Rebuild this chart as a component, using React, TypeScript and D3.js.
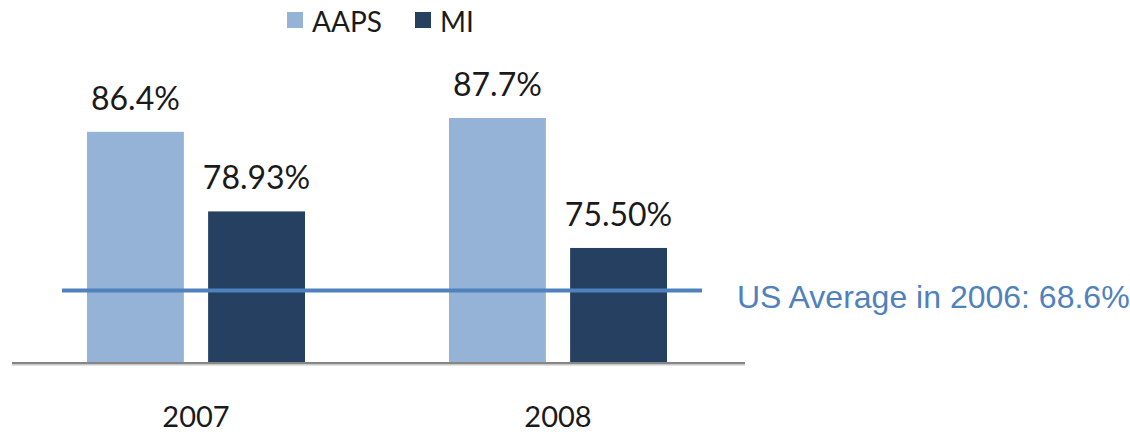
import React, { useEffect, useRef } from 'react';
import * as d3 from 'd3';

// chart data
const years = ['2007', '2008'];
const seriesNames = ['AAPS', 'MI'];
const aapsValues = [86.4, 87.7];
const miValues = [78.93, 75.5];
const valueLabels = [['86.4%', '78.93%'], ['87.7%', '75.50%']];
const seriesColors = ['#95b3d7', '#254061'];
// reference line (drawn where it sits on the original slide)
const usAverageLabel = 'US Average in 2006: 68.6%';
const usAverageMarker = 71.5;

export default function App() {
  const svgRef = useRef<SVGSVGElement>(null);

  useEffect(() => {
    if (!svgRef.current) return;
    const svg = d3.select(svgRef.current);
    svg.selectAll('*').remove();

    const width = 1130;
    const height = 435;
    const baseline = 363;
    const labelFont = 'Lato, "Open Sans", sans-serif';

    svg.attr('width', width).attr('height', height).style('background', '#fff');

    const x0 = d3.scaleBand().domain(years).range([15, 739]);
    const x1 = d3.scaleBand().domain(seriesNames).range([72, 290]).paddingInner(0.2);
    const y = d3.scaleLinear().domain([64.7, 87.7]).range([baseline, 118]);

    const rows = years.map((yr, i) => ({
      year: yr,
      values: [aapsValues[i], miValues[i]],
      labels: valueLabels[i],
    }));

    // bars
    const groups = svg.selectAll('.grp')
      .data(rows)
      .enter()
      .append('g')
      .attr('class', 'grp')
      .attr('transform', d => `translate(${(x0(d.year) ?? 0) + x0.bandwidth() / 2 - 181},0)`);

    groups.selectAll('rect')
      .data(d => d.values.map((v, j) => ({ v, j, label: d.labels[j] })))
      .enter()
      .append('rect')
      .attr('x', d => x1(seriesNames[d.j]) ?? 0)
      .attr('y', d => y(d.v))
      .attr('width', x1.bandwidth())
      .attr('height', d => baseline - y(d.v))
      .attr('fill', d => seriesColors[d.j]);

    groups.selectAll('text.val')
      .data(d => d.values.map((v, j) => ({ v, j, label: d.labels[j] })))
      .enter()
      .append('text')
      .attr('class', 'val')
      .attr('x', d => (x1(seriesNames[d.j]) ?? 0) + x1.bandwidth() / 2)
      .attr('y', d => y(d.v) - 22)
      .attr('text-anchor', 'middle')
      .attr('font-family', labelFont)
      .attr('font-size', 32)
      .attr('fill', '#1a1a1a')
      .text(d => d.label);

    // baseline axis
    svg.append('line')
      .attr('x1', 12).attr('x2', 745)
      .attr('y1', baseline + 1.5).attr('y2', baseline + 1.5)
      .attr('stroke', '#c8c8c8').attr('stroke-width', 2);
    svg.append('line')
      .attr('x1', 12).attr('x2', 745)
      .attr('y1', baseline).attr('y2', baseline)
      .attr('stroke', '#868686').attr('stroke-width', 2);

    // year labels
    svg.selectAll('text.year')
      .data(years)
      .enter()
      .append('text')
      .attr('class', 'year')
      .attr('x', d => (x0(d) ?? 0) + x0.bandwidth() / 2)
      .attr('y', 427)
      .attr('text-anchor', 'middle')
      .attr('font-family', labelFont)
      .attr('font-size', 29)
      .attr('fill', '#1a1a1a')
      .text(d => d);

    // US average line
    const yAvg = y(usAverageMarker);
    svg.append('line')
      .attr('x1', 62).attr('x2', 702)
      .attr('y1', yAvg).attr('y2', yAvg)
      .attr('stroke', '#4f81bd').attr('stroke-width', 4);
    svg.append('text')
      .attr('x', 737)
      .attr('y', 308)
      .attr('font-family', '"Liberation Sans", Arial, sans-serif')
      .attr('font-size', 32)
      .attr('fill', '#4f81bd')
      .text(usAverageLabel);

    // legend
    const legendX = [287, 415];
    const legend = svg.selectAll('.leg')
      .data(seriesNames)
      .enter()
      .append('g')
      .attr('class', 'leg')
      .attr('transform', (d, i) => `translate(${legendX[i]},12)`);
    legend.append('rect')
      .attr('width', 16).attr('height', 16)
      .attr('fill', (d, i) => seriesColors[i]);
    legend.append('text')
      .attr('x', 25)
      .attr('y', 20)
      .attr('font-family', labelFont)
      .attr('font-size', 28)
      .attr('fill', '#1a1a1a')
      .text(d => d);
  }, []);

  return <svg ref={svgRef} style={{ display: 'block', position: 'absolute', left: 0, top: 0 }} />;
}
